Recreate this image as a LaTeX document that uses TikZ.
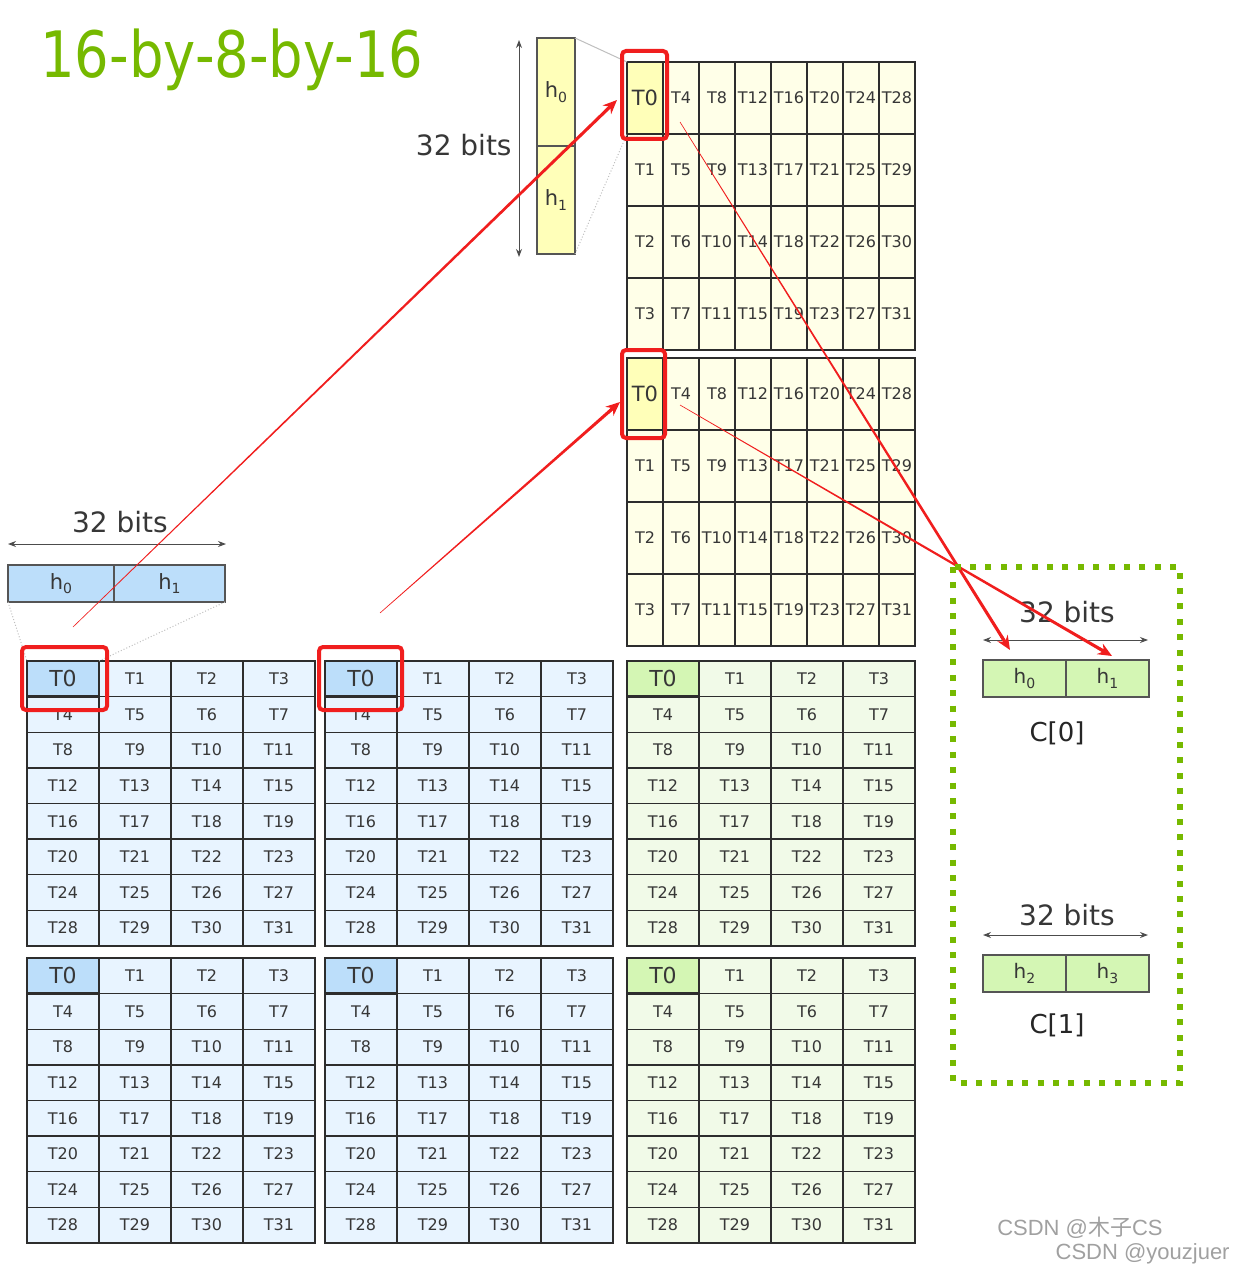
\documentclass[tikz,border=0pt]{standalone}
\usepackage{fontspec}
\setmainfont{DejaVu Sans}
\newfontfamily\titlefont[FakeStretch=0.85]{DejaVu Sans}
\newfontfamily\wmfont{Liberation Sans}
\newfontfamily\cjk{Noto Sans CJK SC}
\usetikzlibrary{positioning,calc,arrows.meta}
\definecolor{nvgreen}{RGB}{118,185,0}
\definecolor{gridline}{RGB}{45,45,45}
\definecolor{celltext}{RGB}{55,55,55}
\definecolor{bargray}{RGB}{85,85,85}
\definecolor{yellowcell}{RGB}{255,255,232}
\definecolor{yellowzero}{RGB}{255,255,185}
\definecolor{bluecell}{RGB}{232,244,255}
\definecolor{bluezero}{RGB}{188,222,250}
\definecolor{greencell}{RGB}{241,250,232}
\definecolor{greenzero}{RGB}{212,246,180}
\definecolor{arrowred}{RGB}{240,30,30}
\definecolor{wmgray}{RGB}{160,160,160}

\newcommand{\hsub}[1]{h\raisebox{-0.4ex}{\fontsize{7}{7}\selectfont #1}}

% 8 rows x 4 columns, row-major thread ids
\newcommand{\rowtile}[4]{%
  \foreach \row in {0,...,7}
    \foreach \col in {0,...,3} {
      \pgfmathtruncatemacro{\tid}{4*\row+\col}
      \ifnum\tid=0 \def\sty{#4zero}\else\def\sty{#4cell}\fi
      \node[\sty] (#1-\row-\col) at ({#2+36+72*\col},{#3+17.8+35.6*\row}) {T\tid};
    }
  \draw[zeroframe] (#1-0-0.north west) rectangle (#1-0-0.south east);
  \draw[tileframe] (#2,#3) rectangle ++(288,285);
}
% 4 rows x 8 columns, column-major thread ids
\newcommand{\coltile}[3]{%
  \foreach \row in {0,...,3}
    \foreach \col in {0,...,7} {
      \pgfmathtruncatemacro{\tid}{4*\col+\row}
      \ifnum\tid=0 \def\sty{yzero}\else\def\sty{ycell}\fi
      \node[\sty] (#1-\row-\col) at ({#2+18+36*\col},{#3+36+72*\row}) {T\tid};
    }
  \draw[zeroframe] (#1-0-0.north west) rectangle (#1-0-0.south east);
  \draw[tileframe] (#2,#3) rectangle ++(288,288);
}

\newcommand{\taperarrow}[2]{%
  \fill[arrowred] ($(#1)!0.15pt!90:(#2)$) -- ($($(#2)!5pt!(#1)$)!0.8pt!90:(#2)$)
    -- ($($(#2)!5pt!(#1)$)!0.8pt!-90:(#2)$) -- ($(#1)!0.15pt!-90:(#2)$) -- cycle;
  \draw[arrowred, line width=1.4pt, -{Stealth[length=7pt,width=6pt]}] ($(#2)!8pt!(#1)$) -- (#2);
}

\begin{document}
\begin{tikzpicture}[
  x=0.5pt, y=-0.5pt,
  every node/.style={text=celltext},
  cellbase/.style={draw=gridline, line width=0.7pt, inner sep=0pt, outer sep=0pt,
                   font=\fontsize{8}{8}\selectfont},
  bcell/.style={cellbase, fill=bluecell, minimum width=36pt, minimum height=17.8pt},
  bzero/.style={bcell, fill=bluezero, font=\fontsize{11}{11}\selectfont},
  gcell/.style={cellbase, fill=greencell, minimum width=36pt, minimum height=17.8pt},
  gzero/.style={gcell, fill=greenzero, font=\fontsize{11}{11}\selectfont},
  ycell/.style={cellbase, fill=yellowcell, minimum width=18pt, minimum height=36pt},
  yzero/.style={ycell, fill=yellowzero, font=\fontsize{10.5}{10.5}\selectfont},
  tileframe/.style={draw=gridline, line width=1.4pt},
  zeroframe/.style={draw=gridline, line width=1.2pt},
  barbase/.style={draw=bargray, line width=0.8pt, inner sep=0pt, outer sep=0pt,
                  font=\fontsize{10.5}{10.5}\selectfont},
  ybar/.style={barbase, fill=yellowzero, minimum width=19pt, minimum height=54pt},
  bbar/.style={barbase, fill=bluezero, minimum height=18.5pt},
  gbar/.style={barbase, fill=greenzero, minimum width=41.5pt, minimum height=18.5pt,
               font=\fontsize{10}{10}\selectfont},
  bits/.style={font=\fontsize{14}{14}\selectfont, inner sep=0pt},
  reglabel/.style={font=\fontsize{13}{13}\selectfont, inner sep=0pt, text=black!85},
  dimarrow/.style={draw=black!70, line width=0.5pt, {Stealth[length=4pt,width=3pt]}-{Stealth[length=4pt,width=3pt]}},
  guide/.style={draw=black!25, line width=0.5pt, densely dotted},
  redbox/.style={draw=arrowred, line width=2pt, rounded corners=2pt},
  cbox/.style={draw=nvgreen, line width=3pt, dash pattern=on 3pt off 4.7pt},
  wm/.style={font=\wmfont\fontsize{11}{11}\selectfont, text=wmgray, inner sep=0pt}
]
  \useasboundingbox (0,0) rectangle (1234,1273);

  \node[font=\titlefont\fontsize{32}{32}\selectfont, text=nvgreen, inner sep=0pt,
        anchor=base west] (title) at (40,78) {16-by-8-by-16};

  % B fragments (yellow) and A / C tiles
  \coltile{ya}{627}{62}
  \coltile{yb}{627}{358}
  \rowtile{ba}{27}{661}{b}
  \rowtile{bb}{325}{661}{b}
  \rowtile{bc}{27}{958}{b}
  \rowtile{bd}{325}{958}{b}
  \rowtile{ga}{627}{661}{g}
  \rowtile{gb}{627}{958}{g}

  % register bars
  \node[ybar] (ah0) at (556,92) {\hsub{0}};
  \node[ybar, below=0pt of ah0] (ah1) {\hsub{1}};
  \node[bbar, minimum width=53pt] (bh0) at (61,583.5) {\hsub{0}};
  \node[bbar, minimum width=55.5pt, right=0pt of bh0] (bh1) {\hsub{1}};
  \node[gbar] (ch0) at (1024.5,678.5) {\hsub{0}};
  \node[gbar, right=0pt of ch0] (ch1) {\hsub{1}};
  \node[gbar] (ch2) at (1024.5,973.5) {\hsub{2}};
  \node[gbar, right=0pt of ch2] (ch3) {\hsub{3}};
  \node[reglabel] (c0lbl) at (1057,733) {C[0]};
  \node[reglabel] (c1lbl) at (1057,1025) {C[1]};

  % 32 bits widths
  \node[bits, anchor=east] (bitsA) at (512,145) {32 bits};
  \node[bits] (bitsB) at (120,522) {32 bits};
  \node[bits] (bitsC0) at (1067,612) {32 bits};
  \node[bits] (bitsC1) at (1067,915) {32 bits};
  \coordinate (dA1) at (519,40);   \coordinate (dA2) at (519,257);
  \coordinate (dB1) at (8,544);    \coordinate (dB2) at (226,544);
  \coordinate (dC1) at (983,640);  \coordinate (dC2) at (1148,640);
  \coordinate (dD1) at (983,935);  \coordinate (dD2) at (1148,935);
  \draw[dimarrow] (dA1) -- (dA2);
  \draw[dimarrow] (dB1) -- (dB2);
  \draw[dimarrow] (dC1) -- (dC2);
  \draw[dimarrow] (dD1) -- (dD2);

  % zoom guides
  \draw[guide, solid] (ah0.north east) -- (ya-0-0.north west);
  \draw[guide] (ah1.south east) -- (ya-0-0.south west);
  \draw[guide] (bh0.south west) -- (ba-0-0.north west);
  \draw[guide] (bh1.south east) -- (ba-0-0.north east);

  % highlights
  \draw[redbox] (622,51) rectangle (667,139);
  \draw[redbox] (622,350) rectangle (665,438);
  \draw[redbox] (22,647) rectangle (107,710);
  \draw[redbox] (319,647) rectangle (402,710);

  \coordinate (s1) at (73,627);   \coordinate (e1) at (617,100);
  \coordinate (s2) at (380,613);  \coordinate (e2) at (620,402);
  \coordinate (s3) at (680,122);  \coordinate (e3) at (1010,650);
  \coordinate (s4) at (680,405);  \coordinate (e4) at (1112,656);
  \taperarrow{s1}{e1}
  \taperarrow{s2}{e2}
  \taperarrow{s3}{e3}
  \taperarrow{s4}{e4}

  % C fragment frame
  \draw[cbox] (953,567) rectangle (1180,1083);

  \node[wm, anchor=east] (wm1) at (1163,1228) {CSDN @{\cjk 木子}CS};
  \node[wm, anchor=east] (wm2) at (1230,1254) {CSDN @youzjuer};
\end{tikzpicture}
\end{document}
